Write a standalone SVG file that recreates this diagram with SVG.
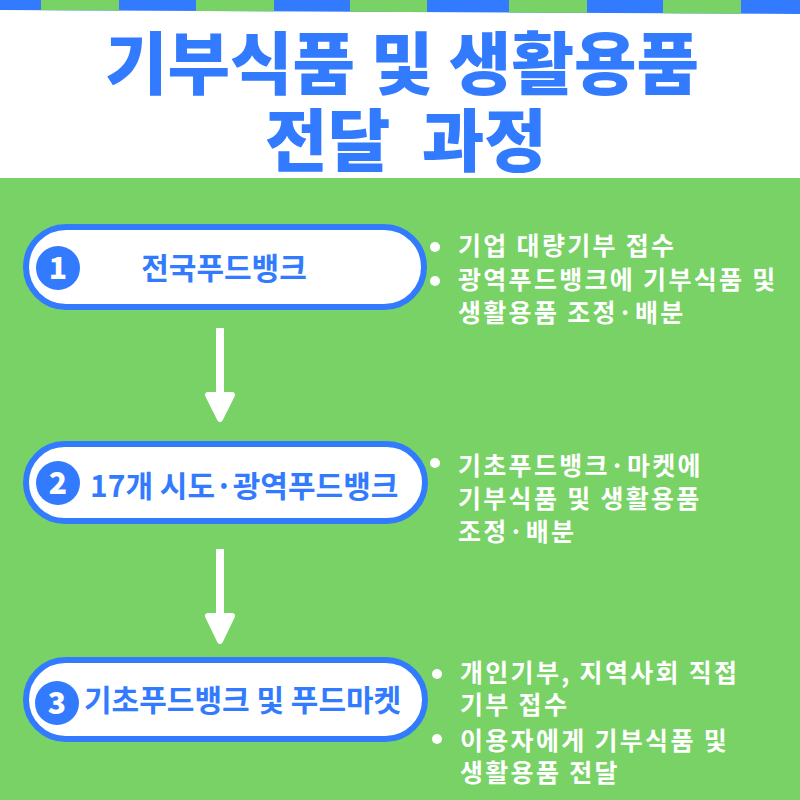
<svg xmlns="http://www.w3.org/2000/svg" width="800" height="800" viewBox="0 0 800 800">
<defs>
<style>
.title{font-family:"Noto Sans CJK KR","Noto Sans",sans-serif;font-weight:900;font-size:68px;fill:#327BFF;text-anchor:middle}
.pill{fill:#fff;stroke:#327BFF;stroke-width:6}
.num{fill:#327BFF}
.numt{font-family:"Noto Sans CJK KR","Noto Sans",sans-serif;font-weight:900;font-size:30px;fill:#fff;text-anchor:middle}
.lbl{font-family:"Noto Sans CJK KR","Noto Sans",sans-serif;font-weight:700;font-size:30px;fill:#327BFF}
.bt{font-family:"Noto Sans CJK KR","Noto Sans",sans-serif;font-weight:700;font-size:25px;letter-spacing:2.3px;fill:#fff}
.dot{fill:#fff}
.arr{fill:#fff;stroke:#fff;stroke-linejoin:round}
</style>
<clipPath id="sc"><polygon points="0,0 800,0 800,14 0,10"/></clipPath>
</defs>
<rect x="0" y="0" width="800" height="800" fill="#fff"/>
<rect x="0" y="178" width="800" height="622" fill="#78D266"/>
<g id="stripe" clip-path="url(#sc)">
<rect x="0" y="0" width="800" height="20" fill="#327BFF"/>
<rect x="41" y="0" width="78" height="20" fill="#78D266"/>
<rect x="196" y="0" width="78" height="20" fill="#78D266"/>
<rect x="350" y="0" width="77" height="20" fill="#78D266"/>
<rect x="509" y="0" width="78" height="20" fill="#78D266"/>
<rect x="663" y="0" width="78" height="20" fill="#78D266"/>
</g>
<g id="title">
<text class="title" x="402" y="89">기부식품 및 생활용품</text>
<text class="title" x="406" y="166" word-spacing="16">전달 과정</text>
</g>
<g id="connectors">
<g id="arrow1"><rect class="arr" x="216" y="328" width="8" height="68" stroke-width="0"/><polygon class="arr" stroke-width="6" points="208,395 232,395 220,419"/></g>
<g id="arrow2"><rect class="arr" x="216" y="549" width="8" height="68" stroke-width="0"/><polygon class="arr" stroke-width="6" points="208,616 232,616 220,641"/></g>
</g>
<g id="node1">
<rect class="pill" x="26" y="227" width="398" height="80" rx="40"/>
<circle class="num" cx="58" cy="268" r="22"/>
<text class="numt" x="58" y="279">1</text>
<text class="lbl" x="224" y="279" text-anchor="middle">전국푸드뱅크</text>
</g>
<g id="node2">
<rect class="pill" x="26" y="444" width="399" height="77" rx="38.5"/>
<circle class="num" cx="58" cy="483" r="22"/>
<text class="numt" x="58" y="494">2</text>
<text class="lbl" x="90" y="497">17개 시도·광역푸드뱅크</text>
</g>
<g id="node3">
<rect class="pill" x="26" y="660" width="399" height="79" rx="39.5"/>
<circle class="num" cx="57" cy="703" r="22"/>
<text class="numt" x="57" y="714">3</text>
<text class="lbl" x="84" y="711">기초푸드뱅크 및 푸드마켓</text>
</g>
<g id="desc1">
<circle class="dot" cx="435" cy="247" r="5"/>
<text class="bt" x="458" y="255">기업 대량기부 접수</text>
<circle class="dot" cx="435" cy="281" r="5"/>
<text class="bt" x="458" y="289">광역푸드뱅크에 기부식품 및</text>
<text class="bt" x="458" y="322">생활용품 조정·배분</text>
</g>
<g id="desc2">
<circle class="dot" cx="435" cy="463" r="5"/>
<text class="bt" x="458" y="475">기초푸드뱅크·마켓에</text>
<text class="bt" x="458" y="508">기부식품 및 생활용품</text>
<text class="bt" x="458" y="541">조정·배분</text>
</g>
<g id="desc3">
<circle class="dot" cx="437" cy="674" r="5"/>
<text class="bt" x="460" y="682">개인기부, 지역사회 직접</text>
<text class="bt" x="460" y="714">기부 접수</text>
<circle class="dot" cx="437" cy="739" r="5"/>
<text class="bt" x="460" y="750">이용자에게 기부식품 및</text>
<text class="bt" x="460" y="782">생활용품 전달</text>
</g>
</svg>
